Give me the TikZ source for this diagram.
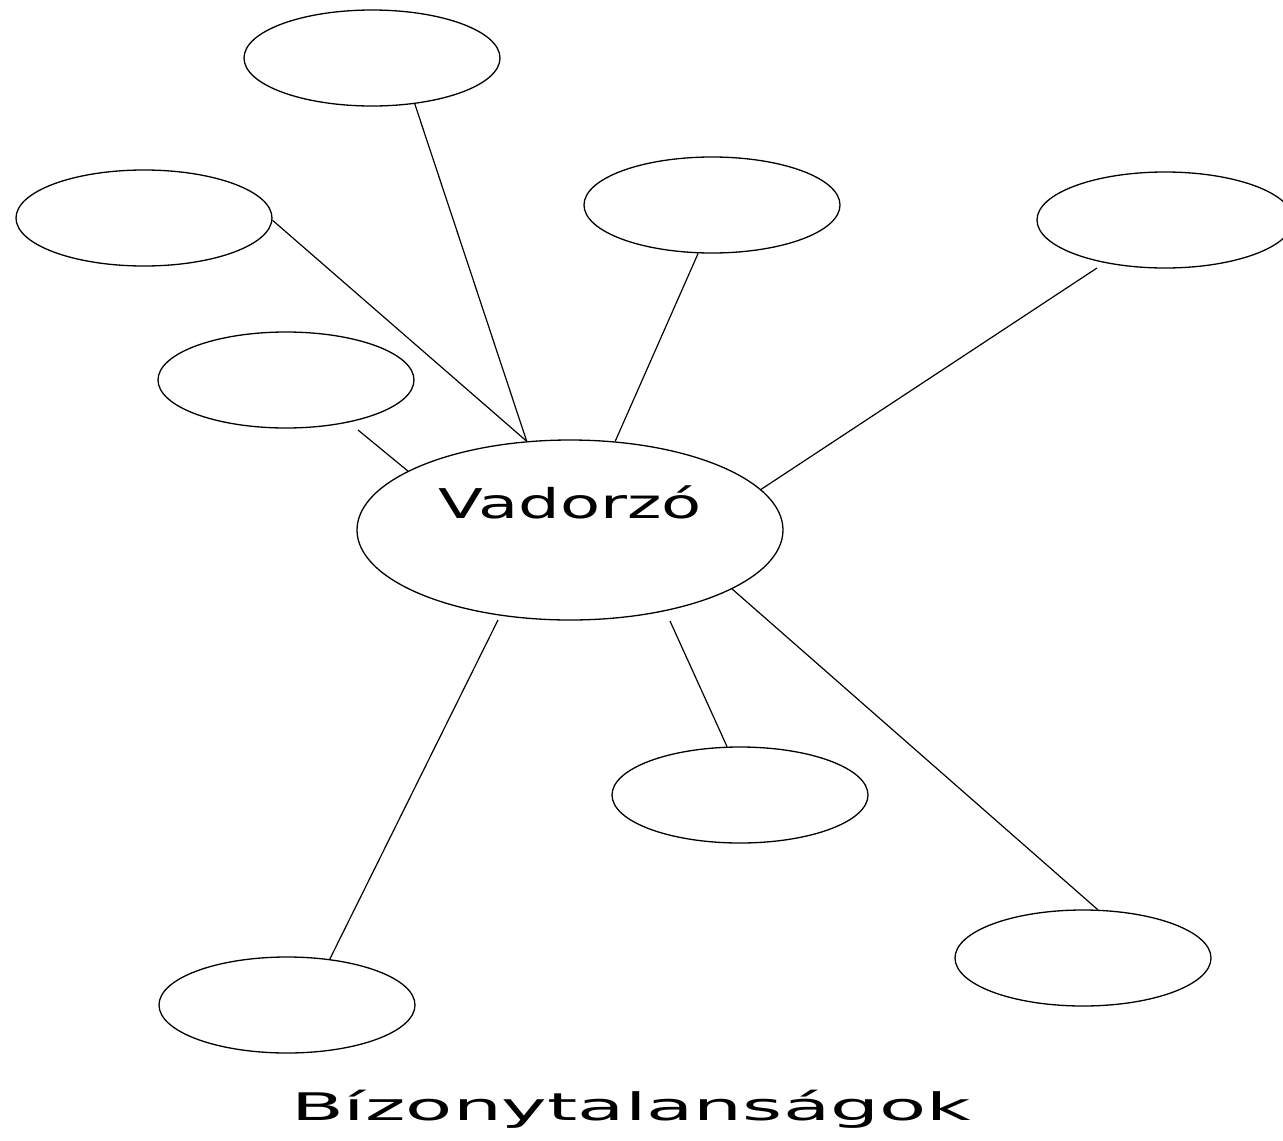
\documentclass[tikz,border=0pt]{standalone}
\usepackage{fontspec}
\setmainfont{DejaVu Sans}
\usetikzlibrary{shapes.geometric}
\tikzset{
  bubble/.style={draw=black, line width=1.3pt, ellipse, inner sep=0pt,
    minimum width=256pt, minimum height=96pt},
  centre/.style={draw=black, line width=1.3pt, ellipse, inner sep=0pt,
    minimum width=426pt, minimum height=180pt},
  link/.style={draw=black, line width=1.2pt}
}
\begin{document}
\begin{tikzpicture}[x=1pt,y=-1pt]
\useasboundingbox (0,0) rectangle (1283,1141);
\node[centre] (C) at (570,530) {};
\node[bubble] (T)  at (372,58) {};
\node[bubble] (L1) at (144,218) {};
\node[bubble] (L2) at (286,380) {};
\node[bubble] (M)  at (712,205) {};
\node[bubble] (R)  at (1165,220) {};
\node[bubble] (MB) at (740,795) {};
\node[bubble] (BR) at (1083,958) {};
\node[bubble] (BL) at (287,1005) {};
\node[anchor=base] (lab) at (570,518) {\scalebox{1.6}[1]{\fontsize{41}{48}\selectfont Vadorzó}};
\node[anchor=base] (title) at (631,1120) {\scalebox{2.03}[1]{\fontsize{38}{44}\selectfont Bízonytalanságok}};
\coordinate (l2s) at (358,430);
\coordinate (rs) at (1097,268);
\coordinate (bls) at (498,620);
\coordinate (mbs) at (670,621);
\draw[link] (T.-47.4) -- (C.116.3);
\draw[link] (L1.-1) -- (C.116.3);
\draw[link] (l2s) -- (C.160.7);
\draw[link] (M.-106.6) -- (C.63.7);
\draw[link] (rs) -- (C.12.1);
\draw[link] (bls) -- (BL.47.5);
\draw[link] (mbs) -- (MB.105.5);
\draw[link] (C.-20.6) -- (BR.73.7);
\end{tikzpicture}
\end{document}
